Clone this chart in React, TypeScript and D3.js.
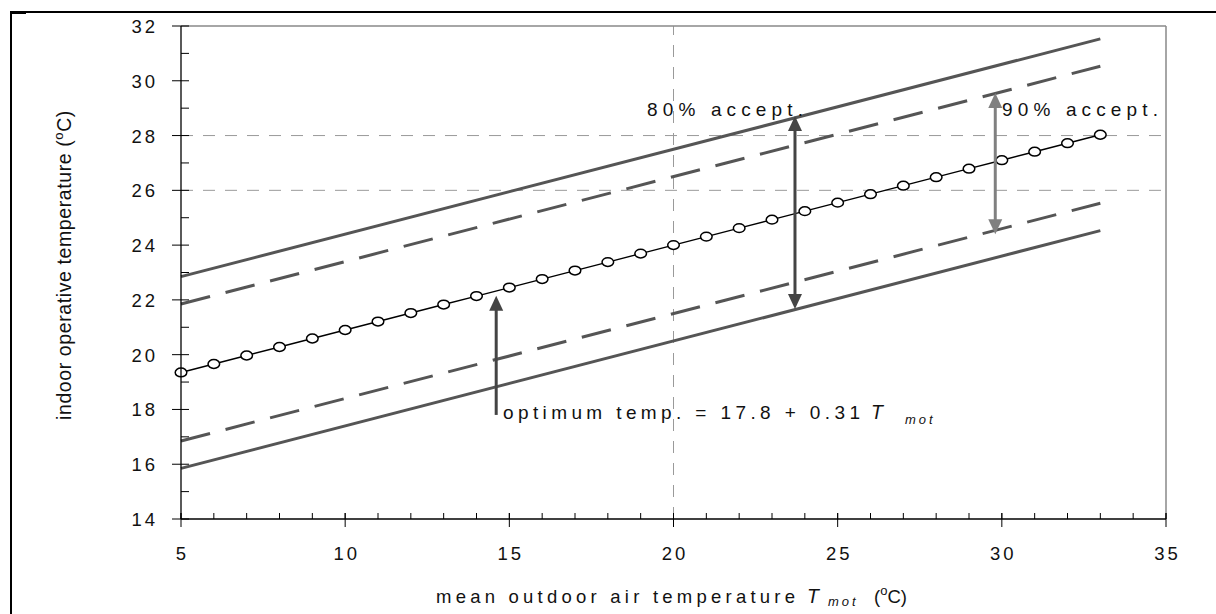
import React from "react";
import * as d3 from "d3";

// ---- data ----
const xTicks = [5, 10, 15, 20, 25, 30, 35];
const xMinorTicks = d3.range(5, 36, 1);
const yTicks = [14, 16, 18, 20, 22, 24, 26, 28, 30, 32];
const yMinorTicks = [15, 17, 19, 21, 23, 25, 27, 29, 31];
const gridY = [26, 28];
const gridX = [20];

const tmot = [5, 6, 7, 8, 9, 10, 11, 12, 13, 14, 15, 16, 17, 18, 19, 20, 21, 22, 23, 24, 25, 26, 27, 28, 29, 30, 31, 32, 33];
const optimum = [19.35, 19.66, 19.97, 20.28, 20.59, 20.9, 21.21, 21.52, 21.83, 22.14, 22.45, 22.76, 23.07, 23.38, 23.69, 24.0, 24.31, 24.62, 24.93, 25.24, 25.55, 25.86, 26.17, 26.48, 26.79, 27.1, 27.41, 27.72, 28.03];

const bandX = [5, 33];
const upper80 = [22.85, 31.53];
const upper90 = [21.85, 30.53];
const lower90 = [16.85, 25.53];
const lower80 = [15.85, 24.53];

// arrows: [x, yFrom, yTo]
const optArrow = [14.6, 17.8, 22.15];
const arrow80 = [23.7, 21.67, 28.71];
const arrow90 = [29.8, 24.4, 29.55];

const W = 1216, H = 614;
const x = d3.scaleLinear().domain([5, 35]).range([181, 1166]);
const y = d3.scaleLinear().domain([14, 32]).range([519, 26]);

const FONT = "'Liberation Sans', Arial, sans-serif";

function headUp(px: number, py: number, c: string) {
  return <polygon points={`${px},${py} ${px - 7},${py + 15} ${px + 7},${py + 15}`} fill={c} />;
}
function headDown(px: number, py: number, c: string) {
  return <polygon points={`${px},${py} ${px - 7},${py - 15} ${px + 7},${py - 15}`} fill={c} />;
}

export default function App() {
  const line = d3.line<number>().x((_, i) => x(tmot[i])).y((d) => y(d));
  const band = (vals: number[]) => d3.line<number>().x((_, i) => x(bandX[i])).y((d) => y(d))(vals) as string;

  const ox = x(optArrow[0]);
  const a80x = x(arrow80[0]);
  const a90x = x(arrow90[0]);

  return (
    <svg width={W} height={H} style={{ position: "absolute", left: 0, top: 0, background: "#fff" }} fontFamily={FONT}>
      {/* outer border */}
      <line x1={11} y1={12} x2={W + 2} y2={12} stroke="#000" strokeWidth={2} />
      <line x1={11} y1={12} x2={11} y2={H + 2} stroke="#000" strokeWidth={2} />
      <rect x={10} y={11} width={16} height={3} fill="#000" />

      {/* grid */}
      {gridY.map((v) => (
        <line key={"gy" + v} x1={x(5)} x2={x(35)} y1={y(v)} y2={y(v)} stroke="#9a9a9a" strokeWidth={1} strokeDasharray="12,10" />
      ))}
      {gridX.map((v) => (
        <line key={"gx" + v} x1={x(v)} x2={x(v)} y1={y(14)} y2={y(32)} stroke="#9a9a9a" strokeWidth={1} strokeDasharray="12,10" />
      ))}

      {/* plot frame top/right */}
      <line x1={x(5)} x2={x(35)} y1={y(32)} y2={y(32)} stroke="#888" strokeWidth={1.5} />
      <line x1={x(35)} x2={x(35)} y1={y(32)} y2={y(14)} stroke="#888" strokeWidth={1.5} />

      {/* band lines */}
      <path d={band(upper80)} stroke="#555" strokeWidth={3} fill="none" />
      <path d={band(lower80)} stroke="#555" strokeWidth={3} fill="none" />
      <path d={band(upper90)} stroke="#555" strokeWidth={3} fill="none" strokeDasharray="30,16" />
      <path d={band(lower90)} stroke="#555" strokeWidth={3} fill="none" strokeDasharray="30,16" />

      {/* optimum line */}
      <path d={line(optimum) as string} stroke="#000" strokeWidth={1.4} fill="none" />
      {optimum.map((v, i) => (
        <ellipse key={i} cx={x(tmot[i])} cy={y(v)} rx={5.8} ry={4.4} fill="#fff" stroke="#000" strokeWidth={1.5} />
      ))}

      {/* arrows */}
      <line x1={ox} x2={ox} y1={y(optArrow[1])} y2={y(optArrow[2]) + 12} stroke="#444" strokeWidth={3} />
      {headUp(ox, y(optArrow[2]), "#444")}

      <line x1={a80x} x2={a80x} y1={y(arrow80[1]) - 12} y2={y(arrow80[2]) + 12} stroke="#444" strokeWidth={3} />
      {headUp(a80x, y(arrow80[2]), "#444")}
      {headDown(a80x, y(arrow80[1]), "#444")}

      <line x1={a90x} x2={a90x} y1={y(arrow90[1]) - 12} y2={y(arrow90[2]) + 12} stroke="#808080" strokeWidth={3} />
      {headUp(a90x, y(arrow90[2]), "#808080")}
      {headDown(a90x, y(arrow90[1]), "#808080")}

      {/* axes */}
      <line x1={x(5)} x2={x(5)} y1={y(32)} y2={y(14)} stroke="#000" strokeWidth={1.3} />
      <line x1={x(5)} x2={x(35)} y1={y(14)} y2={y(14)} stroke="#000" strokeWidth={1.3} />
      {yTicks.map((v) => (
        <line key={"yt" + v} x1={x(5) - 9} x2={x(5) + 8} y1={y(v)} y2={y(v)} stroke="#000" strokeWidth={1} />
      ))}
      {yMinorTicks.map((v) => (
        <line key={"ym" + v} x1={x(5)} x2={x(5) + 8} y1={y(v)} y2={y(v)} stroke="#000" strokeWidth={1} />
      ))}
      {xMinorTicks.map((v) => (
        <line key={"xm" + v} x1={x(v)} x2={x(v)} y1={y(14)} y2={y(14) - 6} stroke="#000" strokeWidth={1} />
      ))}
      {xTicks.map((v) => (
        <line key={"xt" + v} x1={x(v)} x2={x(v)} y1={y(14) - 6} y2={y(14) + 8} stroke="#000" strokeWidth={1} />
      ))}

      {/* tick labels */}
      {yTicks.map((v) => (
        <text key={"yl" + v} x={158} y={y(v) + 7} fontSize={18.5} textAnchor="end" letterSpacing={3} fill="#111">
          {v}
        </text>
      ))}
      {xTicks.map((v) => (
        <text key={"xl" + v} x={x(v) + 1.5} y={560} fontSize={18.5} textAnchor="middle" letterSpacing={3} fill="#111">
          {v}
        </text>
      ))}

      {/* x axis title */}
      <text x={436} y={603} fontSize={18.5} textLength={359} lengthAdjust="spacing" fill="#111">mean outdoor air temperature</text>
      <text x={807} y={603} fontSize={19.5} fontStyle="italic" fill="#111">T</text>
      <text x={828} y={606} fontSize={13} fontStyle="italic" letterSpacing={3} fill="#111">mot</text>
      <text x={874} y={603} fontSize={18.5} fill="#111">
        (<tspan fontSize={13} dy={-8}>o</tspan><tspan dy={8}>C)</tspan>
      </text>

      {/* y axis title */}
      <text transform="translate(71,265) rotate(-90)" fontSize={19.5} textAnchor="middle" letterSpacing={0.6} fill="#111">
        indoor operative temperature (<tspan fontSize={13} dy={-8}>o</tspan><tspan dy={8}>C)</tspan>
      </text>

      {/* annotations */}
      <text x={647} y={116} fontSize={19} textLength={156} lengthAdjust="spacing" fill="#111">80% accept.</text>
      <text x={1002} y={116} fontSize={19} textLength={156} lengthAdjust="spacing" fill="#111">90% accept.</text>
      <text x={503} y={419} fontSize={19} textLength={357} lengthAdjust="spacing" fill="#111">optimum temp. = 17.8 + 0.31</text>
      <text x={871} y={419} fontSize={19.5} fontStyle="italic" fill="#111">T</text>
      <text x={905} y={424} fontSize={13} fontStyle="italic" letterSpacing={3} fill="#111">mot</text>
    </svg>
  );
}
